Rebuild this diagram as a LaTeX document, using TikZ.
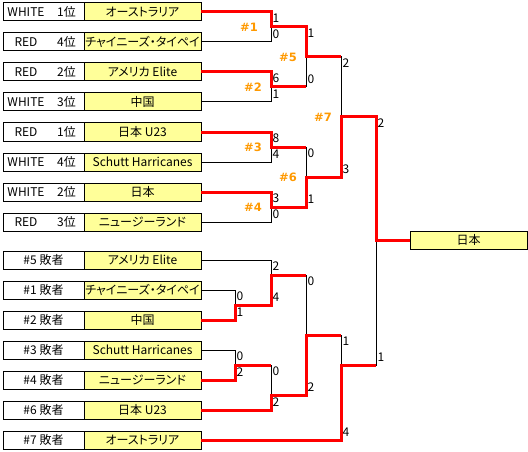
\documentclass[tikz,border=0pt]{standalone}
\usepackage{fontspec}
\setmainfont{Noto Sans CJK JP}[RawFeature=+palt]
\newfontfamily\matchfont{DejaVu Sans}
\usetikzlibrary{positioning}
\definecolor{TeamYellow}{HTML}{FFFF99}
\definecolor{WinRed}{HTML}{FF0000}
\definecolor{MatchOrange}{HTML}{FF9900}
\newcommand{\seedtag}[2]{\makebox[46pt]{#1}\makebox[35pt]{#2}}

\begin{document}
\begin{tikzpicture}[x=1pt, y=-1pt,
  every node/.append style={font=\fontsize{12}{14}\selectfont},
  tagbox/.style={draw=black, fill=white, line width=1pt, outer sep=0pt, inner sep=0pt, minimum width=81pt, minimum height=18pt},
  teambox/.style={draw=black, fill=TeamYellow, line width=1pt, outer sep=0pt, inner sep=0pt, minimum width=117pt, minimum height=18pt},
  loseline/.style={black, line width=1pt},
  winline/.style={WinRed, line width=3pt},
  scoretop/.style={anchor=north west, inner sep=0pt, xshift=1.5pt, yshift=-1.5pt},
  scorebot/.style={anchor=south west, inner sep=0pt, xshift=1.5pt, yshift=3.5pt},
  matchlabel/.style={font=\matchfont\bfseries\fontsize{11.5}{13}\selectfont, text=MatchOrange, inner sep=0pt}]

\useasboundingbox (0,0) rectangle (528,452);

% winners bracket seeds
\foreach \i/\col/\rk/\team in {1/WHITE/1位/オーストラリア, 2/RED/4位/チャイニーズ・タイペイ,
    3/RED/2位/アメリカ Elite, 4/WHITE/3位/中国, 5/RED/1位/日本 U23,
    6/WHITE/4位/Schutt Harricanes, 7/WHITE/2位/日本, 8/RED/3位/ニュージーランド}{
  \node[tagbox] (t\i) at (43.5,{30*\i-18}) {\seedtag{\col}{\rk}};
  \node[teambox, right=0pt of t\i] (w\i) {\team};
}
% consolation seeds
\foreach \i/\k/\team in {1/5/アメリカ Elite, 2/1/チャイニーズ・タイペイ, 3/2/中国,
    4/3/Schutt Harricanes, 5/4/ニュージーランド, 6/6/日本 U23, 7/7/オーストラリア}{
  \node[tagbox] (lt\i) at (43.5,{30*\i+230}) {\#\k\ 敗者};
  \node[teambox, right=0pt of lt\i] (l\i) {\team};
}

% match points
\coordinate (m1) at (271,27);
\coordinate (m2) at (271,87);
\coordinate (m3) at (271,147);
\coordinate (m4) at (271,207);
\coordinate (m5) at (306,57);
\coordinate (m6) at (306,177);
\coordinate (m7) at (341,117);
\coordinate (a1) at (235,305);
\coordinate (a2) at (271,275);
\coordinate (a3) at (235,365);
\coordinate (a4) at (271,395);
\coordinate (a5) at (306,335);
\coordinate (a6) at (341,365);
\coordinate (fin) at (376,240);
\node[teambox, right=34pt of fin] (champ) {日本};

% bracket lines + scores
\foreach \m/\a/\b/\sa/\sb in {m1/w1/w2/1/0, m2/w3/w4/6/1, m3/w5/w6/8/4, m4/w7/w8/3/0,
    m5/m1/m2/1/0, m6/m3/m4/0/1, m7/m5/m6/2/3, a1/l2/l3/0/1, a2/l1/a1/2/4,
    a3/l4/l5/0/2, a4/a3/l6/0/2, a5/a2/a4/0/2, a6/a5/l7/1/4, fin/m7/a6/2/1}{
  \draw[loseline] (\a) -| (\m) (\b) -| (\m);
  \node[scoretop] (\m-top) at (\m |- \a) {\sa};
  \node[scorebot] (\m-bot) at (\m |- \b) {\sb};
}

% winning paths
\draw[winline] (w1) -| (m1) -| (m5) -- (m5 -| m7);
\draw[winline] (w3) -| (m2) -- (m2 -| m5);
\draw[winline] (w5) -| (m3) -- (m3 -| m6);
\draw[winline] (w7) -| (m4) -| (m6) -| (m7) -| (fin) -- (champ);
\draw[winline] (l3) -| (a1) -| (a2) -- (a2 -| a5);
\draw[winline] (l5) -| (a3) -- (a3 -| a4);
\draw[winline] (l6) -| (a4) -| (a5) -- (a5 -| a6);
\draw[winline] (l7) -| (a6) -- (a6 -| fin);

% match numbers
\foreach \n/\d in {1/13pt, 2/9pt, 3/9pt, 4/9pt, 5/9pt, 6/9pt, 7/9pt}
  \node[matchlabel, left=\d of m\n] (lab\n) {\#\n};
\end{tikzpicture}
\end{document}
